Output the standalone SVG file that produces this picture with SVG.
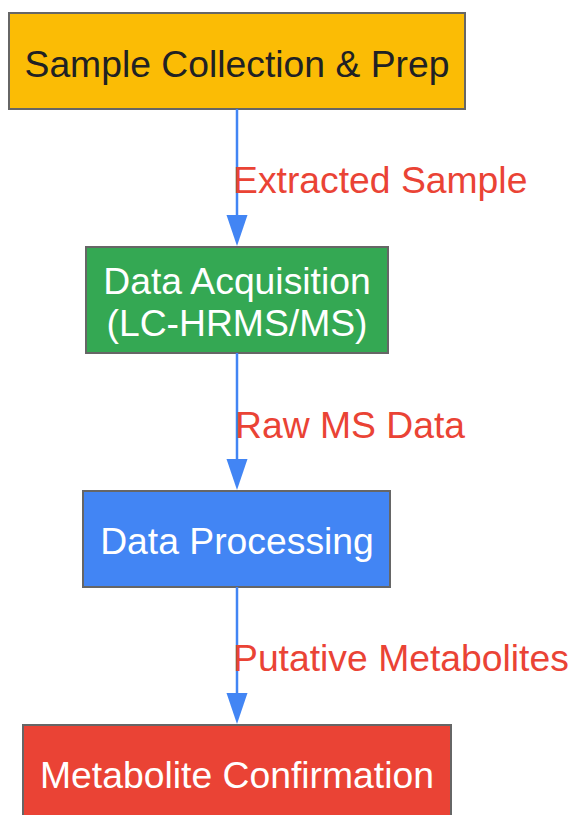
<svg xmlns="http://www.w3.org/2000/svg" width="571" height="815" viewBox="0 0 571 815">
<style>
.node rect{stroke:#666;stroke-width:2}
.nt{font-family:"Liberation Sans",Arial,sans-serif;font-size:37.3px;text-anchor:middle;fill:#fff}
.lbl{font-family:"Liberation Sans",Arial,sans-serif;font-size:37.3px;fill:#EA4335}
.edge{stroke:#4285F4;stroke-width:2.5;fill:none}
.head{fill:#4285F4}
</style>
<rect width="571" height="815" fill="#fff"/>
<g id="n1" class="node">
<rect x="9" y="13" width="456" height="96" fill="#FBBC05"/>
<text class="nt" x="237" y="77" style="fill:#202124">Sample Collection &amp; Prep</text>
</g>
<g id="n2" class="node">
<rect x="86" y="247" width="302" height="106" fill="#34A853"/>
<text class="nt" x="237" y="294">Data Acquisition</text>
<text class="nt" x="237" y="336">(LC-HRMS/MS)</text>
</g>
<g id="n3" class="node">
<rect x="83" y="491" width="307" height="96" fill="#4285F4"/>
<text class="nt" x="237" y="554">Data Processing</text>
</g>
<g id="n4" class="node">
<rect x="23" y="725" width="428" height="96" fill="#EA4335"/>
<text class="nt" x="237" y="788">Metabolite Confirmation</text>
</g>
<g id="edges">
<line class="edge" x1="237" y1="109" x2="237" y2="216"/>
<polygon class="head" points="226.5,215 247.5,215 237,246"/>
<text class="lbl" x="233" y="193">Extracted Sample</text>
<line class="edge" x1="237" y1="353" x2="237" y2="460"/>
<polygon class="head" points="226.5,459 247.5,459 237,490"/>
<text class="lbl" x="235" y="438">Raw MS Data</text>
<line class="edge" x1="237" y1="587" x2="237" y2="694"/>
<polygon class="head" points="226.5,693 247.5,693 237,724"/>
<text class="lbl" x="233" y="671">Putative Metabolites</text>
</g>
</svg>
